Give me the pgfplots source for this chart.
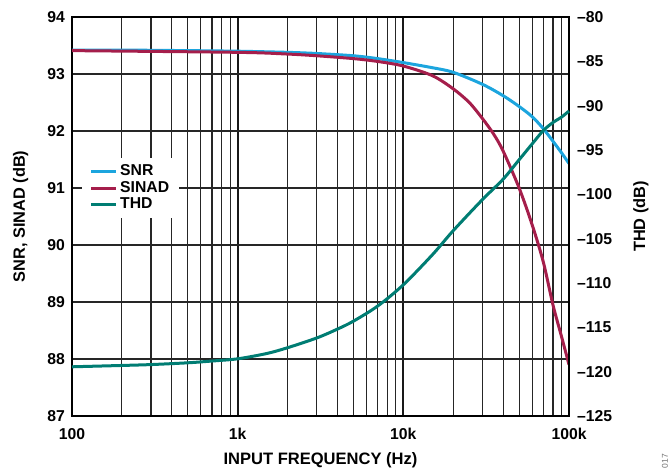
\documentclass[border=0pt]{standalone}
\usepackage{pgfplots}
\pgfplotsset{compat=1.18}
\usepackage{fontspec}
\setmainfont{Liberation Sans}
\definecolor{snr}{RGB}{28,165,222}
\definecolor{sinad}{RGB}{165,30,75}
\definecolor{thd}{RGB}{0,125,115}
\begin{document}
\begin{tikzpicture}[font=\bfseries\fontsize{15.8}{18}\selectfont]
\begin{axis}[
  name=main,
  scale only axis, width=497bp, height=399bp,
  xmode=log, xmin=100, xmax=100000,
  ymin=87, ymax=94,
  xtick={100,1000,10000,100000}, xticklabels={100,1k,10k,100k},
  minor xtick={200,300,400,500,600,700,800,900,2000,3000,4000,5000,6000,7000,8000,9000,20000,30000,40000,50000,60000,70000,80000,90000},
  ytick={87,88,89,90,91,92,93,94}, yticklabels={87,88,89,90,91,92,93,94},
  grid=both,
  major tick length=0pt, minor tick length=0pt,
  axis line style={line width=1.5bp},
  major x grid style={black!90, line width=1.8bp},
  minor x grid style={black!85, line width=1.1bp},
  major y grid style={black!85, line width=1.1bp},
  xticklabel style={anchor=north, inner sep=0pt, yshift=-12bp},
  yticklabel style={anchor=east, inner sep=0pt, xshift=-7bp},
  xlabel={INPUT FREQUENCY (Hz)},
  xlabel style={at={(axis description cs:0.5,-0.1228)}, anchor=base, font=\bfseries\fontsize{16.6}{18}\selectfont},
  ylabel={SNR, SINAD (dB)},
  ylabel style={at={(axis description cs:-0.0946,0.5)}, anchor=base, rotate=0, font=\bfseries\fontsize{16.4}{18}\selectfont},
  legend cell align=left,
  legend image code/.code={\draw[#1, line width=3bp] (0bp,0bp) -- (25bp,0bp);},
  legend style={at={(rel axis cs:0.02,0.647)}, anchor=north west, draw=none, fill=white,
    inner xsep=7.5bp, inner ysep=5bp, row sep=0pt,
    nodes={inner xsep=2.5bp, inner ysep=1.15bp, text height=11.2bp, text depth=3.2bp},
    font=\bfseries\fontsize{15.8}{18}\selectfont},
]
\coordinate (bl) at (rel axis cs:0,0);
\addplot[snr, line width=3bp, smooth] coordinates {
(100,93.42) (200,93.42) (500,93.41) (1000,93.40) (2000,93.38) (3000,93.36) (5000,93.32) (7000,93.27) (10000,93.20) (15000,93.11) (20000,93.03) (30000,92.82) (40000,92.62) (50000,92.43) (60000,92.25) (70000,92.04) (80000,91.82) (90000,91.62) (100000,91.43)
};
\addlegendentry{SNR}
\addplot[sinad, line width=3bp, smooth] coordinates {
(100,93.41) (1000,93.38) (2000,93.35) (3000,93.32) (5000,93.27) (7000,93.22) (10000,93.14) (15000,92.97) (20000,92.74) (25000,92.50) (30000,92.22) (35000,91.95) (40000,91.65) (50000,91.00) (60000,90.35) (70000,89.70) (80000,88.95) (90000,88.40) (100000,87.90)
};
\addlegendentry{SINAD}
\addlegendimage{thd, line width=3bp}
\addlegendentry{THD}
\end{axis}
\begin{axis}[
  scale only axis, width=497bp, height=399bp,
  xmode=log, xmin=100, xmax=100000,
  ymin=-125, ymax=-80,
  axis x line=none, axis y line*=right,
  axis line style={line width=1.5bp},
  ytick={-125,-120,-115,-110,-105,-100,-95,-90,-85,-80},
  yticklabels={–125,–120,–115,–110,–105,–100,–95,–90,–85,–80},
  major tick length=0pt, minor tick length=0pt,
  yticklabel style={anchor=west, inner sep=0pt, xshift=8bp},
  ylabel={THD (dB)},
  ylabel style={at={(axis description cs:1.153,0.5)}, anchor=base, rotate=0, font=\bfseries\fontsize{16.4}{18}\selectfont},
  clip=false,
]
\addplot[thd, line width=3bp, smooth] coordinates {
(100,-119.45) (200,-119.3) (300,-119.2) (500,-119.0) (700,-118.8) (1000,-118.55) (1500,-117.95) (2000,-117.3) (3000,-116.2) (4000,-115.2) (5000,-114.3) (7000,-112.6) (10000,-110.2) (15000,-106.8) (20000,-104.1) (30000,-100.6) (40000,-98.3) (50000,-96.1) (60000,-94.3) (70000,-92.8) (80000,-91.9) (90000,-91.3) (100000,-90.6)
};
\node[rotate=90, anchor=center, font=\mdseries\fontsize{8.5}{9}\selectfont, text=black!55] at (rel axis cs:1.193,-0.113) {017};
\end{axis}
\pgfresetboundingbox
\path (bl) ++(-72bp,-56bp) rectangle ++(670bp,472bp);
\end{tikzpicture}
\end{document}
